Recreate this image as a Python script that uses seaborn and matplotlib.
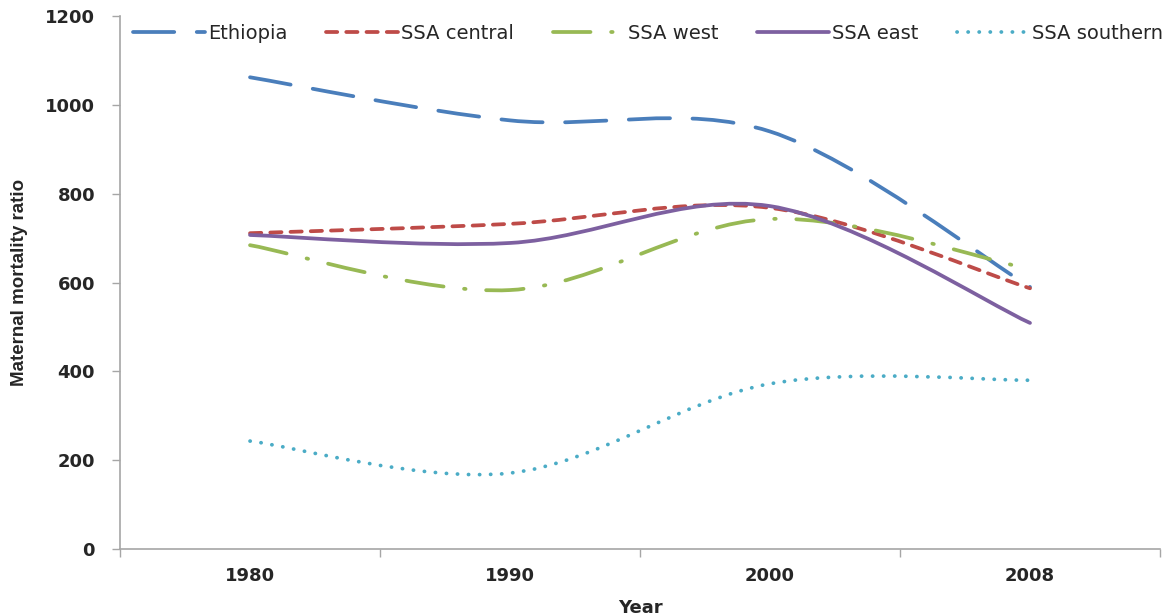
import numpy as np
import matplotlib
matplotlib.use("Agg")
import matplotlib.pyplot as plt
from matplotlib.path import Path
from matplotlib.patches import PathPatch
from matplotlib.lines import Line2D
import seaborn as sns

# Maternal mortality ratio by region
years = ["1980", "1990", "2000", "2008"]
ethiopia = [1062, 965, 940, 590]
ssa_central = [711, 732, 768, 587]
ssa_west = [684, 583, 743, 630]
ssa_east = [707, 689, 772, 509]
ssa_southern = [243, 171, 372, 380]

series_names = ["Ethiopia", "SSA central", "SSA west", "SSA east", "SSA southern"]
series_values = [ethiopia, ssa_central, ssa_west, ssa_east, ssa_southern]
colors = ["#4A7EBB", "#BE4B48", "#98B954", "#7D60A0", "#4BACC6"]
line_styles = [(0, (11, 6)), (0, (3.0, 2.4)), (0, (10, 5.5, 0.4, 5.5)), "-", (0, (0.05, 2.9))]


def smooth_path(values):
    # Excel-like smoothed line: bezier segments through the data points
    pts = np.column_stack([np.arange(len(values), dtype=float), np.asarray(values, dtype=float)])
    padded = np.vstack([pts[0], pts, pts[-1]])
    verts = [pts[0]]
    codes = [Path.MOVETO]
    for i in range(len(pts) - 1):
        p_prev, p0, p1, p_next = padded[i], padded[i + 1], padded[i + 2], padded[i + 3]
        verts += [p0 + (p1 - p_prev) / 6, p1 - (p_next - p0) / 6, p1]
        codes += [Path.CURVE4] * 3
    return Path(verts, codes)


sns.set_theme(style="white")
plt.rcParams["font.family"] = ["DejaVu Sans"]

fig, ax = plt.subplots(figsize=(11.71, 6.15), dpi=100)
fig.subplots_adjust(left=0.1025, right=0.9906, bottom=0.1073, top=0.974)

handles = []
for name, vals, c, ls in zip(series_names, series_values, colors, line_styles):
    patch = PathPatch(smooth_path(vals), facecolor="none", edgecolor=c, lw=2.7,
                      linestyle=ls, capstyle="round", joinstyle="round")
    ax.add_patch(patch)
    handles.append(Line2D([], [], color=c, lw=2.7, linestyle=ls, dash_capstyle="round",
                          solid_capstyle="round", label=name))

ax.set_xlim(-0.5, len(years) - 0.5)
ax.set_ylim(0, 1200)

# category boundaries get the tick marks, labels sit in the middle
ax.set_xticks(np.arange(-0.5, len(years), 1.0))
ax.set_xticklabels([])
ax.set_xticks(range(len(years)), minor=True)
ax.set_xticklabels(years, minor=True)
ax.set_yticks(range(0, 1201, 200))

axis_grey = "#A6A6A6"
ax.tick_params(axis="x", which="major", bottom=True, length=6, width=1, color=axis_grey, direction="out")
ax.tick_params(axis="x", which="minor", bottom=True, length=0, pad=13, labelsize=13)
ax.tick_params(axis="y", left=True, length=6, width=1, color=axis_grey, direction="out", pad=12, labelsize=13)
for lbl in ax.get_xticklabels(minor=True) + ax.get_yticklabels():
    lbl.set_fontweight("bold")

sns.despine(ax=ax)
for side in ["left", "bottom"]:
    ax.spines[side].set_color(axis_grey)
    ax.spines[side].set_linewidth(1.2)

ax.set_xlabel("Year", fontsize=13, fontweight="bold", labelpad=10)
ax.set_ylabel("Maternal mortality ratio", fontsize=13.5, fontweight="bold",
              family=["Liberation Sans", "DejaVu Sans"])
ax.yaxis.set_label_coords(-0.0885, 0.5)

ax.legend(handles=handles, loc="center left", bbox_to_anchor=(0.0125, 0.968), ncol=5,
          frameon=False, fontsize=14, handlelength=3.7, handletextpad=0.15,
          columnspacing=2.0, borderpad=0, borderaxespad=0)

fig.savefig("out.png", dpi=100)
